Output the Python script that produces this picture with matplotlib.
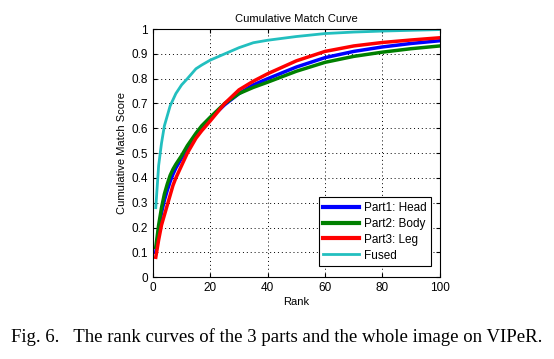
import matplotlib
matplotlib.use("Agg")
import matplotlib.pyplot as plt

ranks = [1, 2, 3, 4, 5, 6, 7, 8, 10, 12, 15, 17, 20, 25, 30, 35, 40, 50, 60, 70, 80, 90, 100]
head = [0.10, 0.19, 0.26, 0.31, 0.35, 0.385, 0.415, 0.44, 0.48, 0.52, 0.57, 0.60, 0.64, 0.695, 0.74, 0.775, 0.80, 0.847, 0.885, 0.91, 0.928, 0.942, 0.953]
body = [0.12, 0.21, 0.28, 0.335, 0.375, 0.41, 0.435, 0.455, 0.49, 0.53, 0.58, 0.61, 0.645, 0.70, 0.74, 0.765, 0.786, 0.83, 0.866, 0.89, 0.907, 0.921, 0.932]
leg = [0.08, 0.15, 0.21, 0.25, 0.29, 0.33, 0.37, 0.40, 0.45, 0.50, 0.56, 0.59, 0.63, 0.70, 0.755, 0.79, 0.82, 0.872, 0.91, 0.932, 0.946, 0.956, 0.965]
fused = [0.28, 0.45, 0.54, 0.61, 0.65, 0.69, 0.715, 0.74, 0.775, 0.80, 0.84, 0.855, 0.875, 0.90, 0.925, 0.945, 0.955, 0.97, 0.982, 0.988, 0.992, 0.995, 0.998]

labels = ["Part1: Head", "Part2: Body", "Part3: Leg", "Fused"]
xticks = [0, 20, 40, 60, 80, 100]
yticks = [0, 0.1, 0.2, 0.3, 0.4, 0.5, 0.6, 0.7, 0.8, 0.9, 1]
yticklabels = ["0", "0.1", "0.2", "0.3", "0.4", "0.5", "0.6", "0.7", "0.8", "0.9", "1"]

plt.rcParams['font.family'] = ['Liberation Sans', 'DejaVu Sans']

fig = plt.figure(figsize=(5.54, 3.59), dpi=100)
ax = fig.add_axes([0.276, 0.228, 0.518, 0.691])

ax.plot(ranks, head, color=(0, 0, 1), lw=2.5, label=labels[0])
ax.plot(ranks, body, color=(0, 0.5, 0), lw=2.5, label=labels[1])
ax.plot(ranks, leg, color=(1, 0, 0), lw=2.5, label=labels[2])
ax.plot(ranks, fused, color='#22bfbf', lw=2.0, label=labels[3])

ax.set_xlim(0, 100)
ax.set_ylim(0, 1)
ax.set_xticks(xticks)
ax.set_yticks(yticks)
ax.set_yticklabels(yticklabels)
ax.tick_params(direction='in', labelsize=8.5, length=3, top=True, right=True)
ax.grid(True, linestyle=(0, (1, 3)), color='black', linewidth=0.7)
ax.set_title("Cumulative Match Curve", fontsize=8, pad=5)
ax.set_xlabel("Rank", fontsize=8, labelpad=2)
ax.set_ylabel("Cumulative Match Score", fontsize=8, labelpad=3)
for s in ax.spines.values():
    s.set_linewidth(0.8)

leg_ = ax.legend(loc='lower right', fontsize=8.5, fancybox=False, framealpha=1,
                 edgecolor='black', handlelength=3.0, borderpad=0.4,
                 labelspacing=0.33, handletextpad=0.4, borderaxespad=0,
                 bbox_to_anchor=(0.969, 0.044))
leg_.get_frame().set_linewidth(0.8)
for h in leg_.get_lines()[:3]:
    h.set_linewidth(3.0)

fig.text(0.5, 0.06, "Fig. 6.   The rank curves of the 3 parts and the whole image on VIPeR.",
         ha='center', va='center', fontsize=13.5, family=['Liberation Serif'])

fig.savefig("out.png", dpi=100)
